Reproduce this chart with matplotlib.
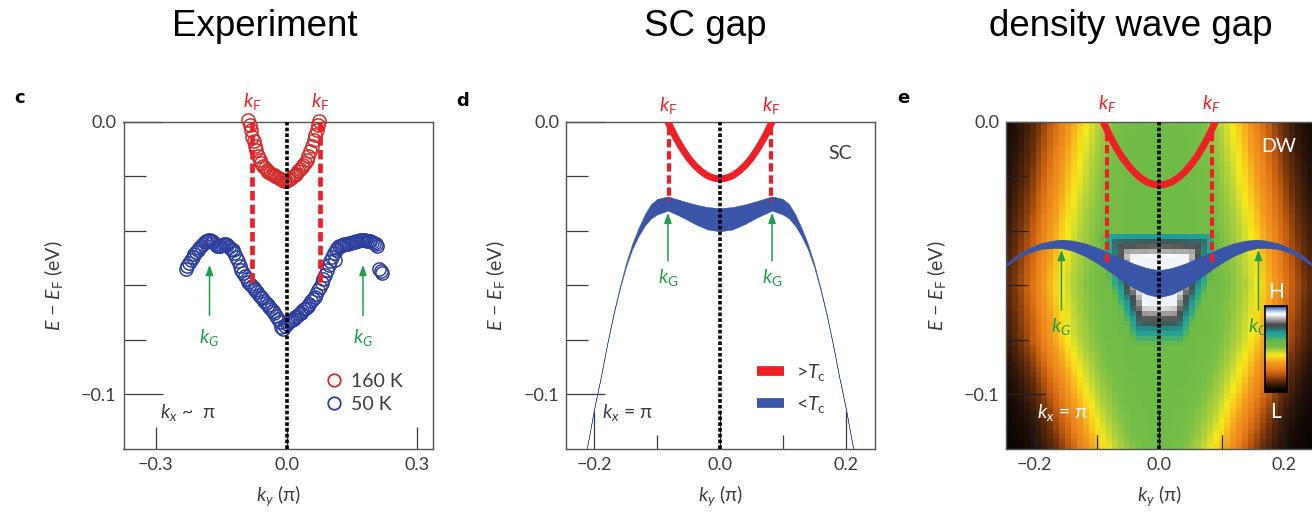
import numpy as np
import matplotlib
matplotlib.use('Agg')
import matplotlib.pyplot as plt
from matplotlib.colors import LinearSegmentedColormap
from matplotlib.lines import Line2D

plt.rcParams['font.family'] = ['Lato', 'DejaVu Sans']
plt.rcParams['mathtext.fontset'] = 'custom'
plt.rcParams['mathtext.rm'] = 'Lato'
plt.rcParams['mathtext.it'] = 'Lato:italic'

# ---------------- data ----------------
# panel c: measured band positions (ky in pi, E in eV)
red_k = [-0.088, -0.085, -0.082, -0.079, -0.076, -0.073, -0.070, -0.066, -0.062, -0.058,
         -0.054, -0.050, -0.046, -0.042, -0.038, -0.034, -0.030, -0.026, -0.022, -0.018,
         -0.014, -0.010, -0.006, -0.002, 0.002, 0.006, 0.010, 0.014, 0.018, 0.022,
         0.026, 0.030, 0.034, 0.038, 0.042, 0.046, 0.050, 0.054, 0.058, 0.062,
         0.066, 0.069, 0.072, 0.075]
red_E = [0.0005, -0.0012, -0.0032, -0.0055, -0.0072, -0.0088, -0.0102, -0.0125, -0.0140, -0.0152,
         -0.0162, -0.0171, -0.0177, -0.0183, -0.0187, -0.0192, -0.0196, -0.0200, -0.0204, -0.0208,
         -0.0211, -0.0215, -0.0217, -0.0216, -0.0214, -0.0210, -0.0205, -0.0200, -0.0195, -0.0190,
         -0.0182, -0.0175, -0.0167, -0.0160, -0.0152, -0.0140, -0.0125, -0.0108, -0.0090, -0.0068,
         -0.0048, -0.0030, -0.0012, 0.0002]

blue_k = [-0.232, -0.228, -0.224, -0.220, -0.216, -0.212, -0.208, -0.204, -0.200, -0.196,
          -0.192, -0.188, -0.184, -0.180, -0.176, -0.172, -0.168, -0.164, -0.160, -0.156,
          -0.152, -0.148, -0.144, -0.140, -0.136, -0.132, -0.128, -0.124, -0.120, -0.116,
          -0.112, -0.108, -0.104, -0.100, -0.096, -0.092, -0.088, -0.084, -0.080, -0.076,
          -0.072, -0.068, -0.064, -0.060, -0.056, -0.052, -0.048, -0.044, -0.040, -0.036,
          -0.032, -0.028, -0.024, -0.020, -0.016, -0.012, -0.008, -0.004, 0.000, 0.004,
          0.008, 0.012, 0.016, 0.020, 0.024, 0.028, 0.032, 0.036, 0.040, 0.044,
          0.048, 0.052, 0.056, 0.060, 0.064, 0.068, 0.072, 0.076, 0.080, 0.084,
          0.088, 0.092, 0.096, 0.100, 0.104, 0.108, 0.110, 0.112, 0.116, 0.120,
          0.124, 0.128, 0.132, 0.136, 0.140, 0.144, 0.148, 0.152, 0.156, 0.160,
          0.164, 0.168, 0.172, 0.176, 0.180, 0.184, 0.188, 0.192, 0.196, 0.200,
          0.204, 0.208, 0.212, 0.216, 0.218]
blue_E = [-0.0540, -0.0530, -0.0518, -0.0508, -0.0496, -0.0486, -0.0477, -0.0470, -0.0463, -0.0455,
          -0.0448, -0.0442, -0.0438, -0.0434, -0.0433, -0.0436, -0.0442, -0.0449, -0.0454, -0.0457,
          -0.0456, -0.0452, -0.0450, -0.0450, -0.0452, -0.0458, -0.0465, -0.0472, -0.0480, -0.0495,
          -0.0510, -0.0528, -0.0542, -0.0555, -0.0566, -0.0578, -0.0588, -0.0596, -0.0602, -0.0610,
          -0.0618, -0.0626, -0.0634, -0.0641, -0.0648, -0.0656, -0.0664, -0.0671, -0.0679, -0.0687,
          -0.0695, -0.0703, -0.0712, -0.0722, -0.0736, -0.0752, -0.0760, -0.0748, -0.0740, -0.0736,
          -0.0730, -0.0726, -0.0722, -0.0717, -0.0712, -0.0706, -0.0700, -0.0694, -0.0688, -0.0682,
          -0.0675, -0.0668, -0.0659, -0.0650, -0.0641, -0.0630, -0.0618, -0.0605, -0.0592, -0.0578,
          -0.0562, -0.0544, -0.0527, -0.0510, -0.0496, -0.0482, -0.0508, -0.0470, -0.0462, -0.0457,
          -0.0454, -0.0451, -0.0450, -0.0449, -0.0447, -0.0445, -0.0443, -0.0441, -0.0440, -0.0438,
          -0.0436, -0.0434, -0.0433, -0.0434, -0.0435, -0.0436, -0.0437, -0.0439, -0.0442, -0.0446,
          -0.0450, -0.0456, -0.0540, -0.0548, -0.0556]

kF_c = [-0.080, 0.077]
kF_c_bottom = -0.059
kG_c = [-0.177, 0.175]

# panel d: model bands
d_red_k = [-0.083, -0.080, -0.070, -0.060, -0.050, -0.040, -0.030, -0.020, -0.010, 0.000,
           0.010, 0.020, 0.030, 0.040, 0.050, 0.060, 0.070, 0.080, 0.083]
d_red_E = [0.0000, -0.0015, -0.0061, -0.0100, -0.0134, -0.0161, -0.0182, -0.0198, -0.0207, -0.0210,
           -0.0207, -0.0198, -0.0182, -0.0161, -0.0134, -0.0100, -0.0061, -0.0015, 0.0000]
d_blue_k = [-0.214, -0.200, -0.190, -0.180, -0.170, -0.160, -0.150, -0.140, -0.130, -0.120,
            -0.110, -0.100, -0.083, -0.060, -0.040, -0.020, 0.000,
            0.020, 0.040, 0.060, 0.083, 0.100, 0.110, 0.120, 0.130, 0.140,
            0.150, 0.160, 0.170, 0.180, 0.190, 0.200, 0.214]
d_blue_top = [-0.1220, -0.1045, -0.0935, -0.0815, -0.0705, -0.0608, -0.0520, -0.0448, -0.0390, -0.0340,
              -0.0302, -0.0283, -0.0274, -0.0290, -0.0303, -0.0313, -0.0317,
              -0.0313, -0.0303, -0.0290, -0.0274, -0.0283, -0.0302, -0.0340, -0.0390, -0.0448,
              -0.0520, -0.0608, -0.0705, -0.0815, -0.0935, -0.1045, -0.1220]
d_blue_bot = [-0.1221, -0.1047, -0.0938, -0.0819, -0.0711, -0.0616, -0.0533, -0.0468, -0.0420, -0.0382,
              -0.0355, -0.0340, -0.0326, -0.0350, -0.0375, -0.0395, -0.0402,
              -0.0395, -0.0375, -0.0350, -0.0326, -0.0340, -0.0355, -0.0382, -0.0420, -0.0468,
              -0.0533, -0.0616, -0.0711, -0.0819, -0.0938, -0.1047, -0.1221]
kF_d = [-0.082, 0.082]
kF_d_bottom = -0.029
kG_d = [-0.083, 0.083]

# panel e: density-wave model bands
e_red_k = [-0.090, -0.080, -0.070, -0.060, -0.050, -0.040, -0.030, -0.020, -0.010, 0.000,
           0.010, 0.020, 0.030, 0.040, 0.050, 0.060, 0.070, 0.080, 0.090]
e_red_E = [0.0000, -0.0049, -0.0092, -0.0129, -0.0160, -0.0186, -0.0206, -0.0221, -0.0229, -0.0232,
           -0.0229, -0.0221, -0.0206, -0.0186, -0.0160, -0.0129, -0.0092, -0.0049, 0.0000]
e_blue_k = [-0.250, -0.230, -0.210, -0.190, -0.170, -0.157, -0.140, -0.120, -0.100, -0.080,
            -0.060, -0.040, -0.020, 0.000, 0.020, 0.040, 0.060, 0.080, 0.100, 0.120,
            0.140, 0.157, 0.170, 0.190, 0.210, 0.230, 0.250]
e_blue_top = [-0.0530, -0.0492, -0.0465, -0.0446, -0.0436, -0.0433, -0.0436, -0.0446, -0.0462, -0.0482,
              -0.0503, -0.0522, -0.0537, -0.0545, -0.0537, -0.0522, -0.0503, -0.0482, -0.0462, -0.0446,
              -0.0436, -0.0433, -0.0436, -0.0446, -0.0465, -0.0492, -0.0530]
e_blue_bot = [-0.0537, -0.0503, -0.0480, -0.0466, -0.0462, -0.0463, -0.0472, -0.0491, -0.0517, -0.0548,
              -0.0580, -0.0610, -0.0632, -0.0643, -0.0632, -0.0610, -0.0580, -0.0548, -0.0517, -0.0491,
              -0.0472, -0.0463, -0.0462, -0.0466, -0.0480, -0.0503, -0.0537]
kF_e = [-0.084, 0.084]
kF_e_bottom = -0.052
kG_e = [-0.157, 0.159]

# panel e intensity map: ridge (yellow edge) of the bright region and the gap blob
ridge_E = [-0.12, -0.10, -0.08, -0.06, -0.04, -0.02, 0.0]
ridge_k = [0.090, 0.122, 0.152, 0.164, 0.152, 0.137, 0.122]
blob_E = [-0.090, -0.080, -0.070, -0.060, -0.050, -0.040]
blob_kw = [0.030, 0.048, 0.066, 0.084, 0.096, 0.100]
plateau = 0.57
blob_gain = 0.35
blob_top, blob_bottom = -0.037, -0.083

# ---------------- styling ----------------
gray = '#3c3c3c'
red_c, blue_c = '#d22b2b', '#2e3e9c'
red_l, blue_l = '#ee2026', '#3a55a8'
green = '#1f9e4c'
tick_fs = 13

cmap = LinearSegmentedColormap.from_list('dw', [
    (0.00, '#000000'), (0.06, '#24120a'), (0.13, '#6a300c'), (0.20, '#c05a10'),
    (0.27, '#e8801a'), (0.34, '#f49c20'), (0.40, '#f8d21c'), (0.43, '#f6ea1e'),
    (0.48, '#b4d23c'), (0.53, '#78bf46'), (0.60, '#64b74c'), (0.65, '#2ea98a'),
    (0.70, '#1f9c9c'), (0.75, '#3e5c5c'), (0.79, '#4c4c4c'), (0.85, '#a8a8a8'),
    (0.91, '#ffffff'), (0.95, '#b0c8e8'), (1.00, '#2e4ea6')])

fig = plt.figure(figsize=(13.12, 5.14), dpi=100)
W, H = 1312, 514


def make_axes(x0, x1):
    return fig.add_axes([x0 / W, 1 - 449 / H, (x1 - x0) / W, (449 - 121.7) / H])


def style_axes(ax, xmajor, xminor, long_len):
    ax.set_ylim(-0.12, 0.0)
    ax.set_yticks([0.0, -0.1])
    ax.set_yticklabels(['0.0', '\u22120.1'])
    ax.set_yticks([-0.02, -0.04, -0.06, -0.08], minor=True)
    ax.set_xticks(xmajor)
    ax.set_xticklabels([('\u2212%.1f' % abs(v)) if v < 0 else '%.1f' % v for v in xmajor])
    ax.set_xticks(xminor, minor=True)
    ax.tick_params(axis='y', which='major', direction='in', length=28, width=0.9,
                   color=gray, labelcolor=gray, labelsize=tick_fs, pad=5)
    ax.tick_params(axis='y', which='minor', direction='in', length=16, width=0.9, color=gray)
    ax.tick_params(axis='x', which='major', direction='in', length=long_len, width=0.9,
                   color=gray, labelcolor=gray, labelsize=tick_fs, pad=6)
    ax.tick_params(axis='x', which='minor', direction='in', length=10, width=0.9, color=gray)
    for s in ax.spines.values():
        s.set_color('#555555')
        s.set_linewidth(1.0)
    ax.set_xlabel(r'$k_y$ (π)', fontsize=14, color=gray)
    ax.xaxis.set_label_coords(0.5, -0.105)
    ax.set_ylabel('$E$ \u2212 $E_\\mathrm{F}$ (eV)', fontsize=14, color=gray)
    ax.yaxis.set_label_coords(-0.19, 0.5)


def center_line(ax):
    ax.axvline(0.0, color='black', lw=2.6, ls=(0, (1.0, 0.6)), dash_capstyle='butt', zorder=6)


def kf_lines(ax, ks, bottom, top, lw):
    for k in ks:
        ax.plot([k, k], [top, bottom], color=red_l, lw=lw, ls=(0, (2.0, 0.9)),
                dash_capstyle='butt', zorder=5)


def kf_labels(ax, ks, yax, label):
    for k in ks:
        ax.text(k, yax, label, color=red_l, fontsize=14, ha='center', va='center',
                transform=ax.get_xaxis_transform(), clip_on=False)


def kg_arrows(ax, ks, tail, tip, lab_E, label):
    for k in ks:
        ax.annotate('', xy=(k, tip), xytext=(k, tail),
                    arrowprops=dict(arrowstyle='-|>,head_length=0.6,head_width=0.22',
                                    color=green, lw=1.1, shrinkA=0, shrinkB=0), zorder=7)
        ax.text(k, lab_E, label, color=green, fontsize=14, ha='center', va='center', zorder=7)


# ---------------- panel c: experiment ----------------
axc = make_axes(123.5, 433)
axc.set_xlim(-0.3743, 0.3356)
style_axes(axc, [-0.3, 0.0, 0.3], [], 16)
center_line(axc)
kf_lines(axc, kF_c, kF_c_bottom, 0.0, 3.4)
axc.plot(red_k, red_E, 'o', ms=9.5, mfc='none', mec=red_c, mew=1.1, clip_on=False, zorder=4)
axc.plot(blue_k, blue_E, 'o', ms=9.5, mfc='none', mec=blue_c, mew=1.1, clip_on=False, zorder=4)
kf_labels(axc, kF_c, 1.063, r'$k_\mathrm{F}$')
kg_arrows(axc, kG_c, -0.071, -0.0525, -0.0790, r'$k_G$')
axc.text(0.117, 0.11, r'$k_x$ ~  π', transform=axc.transAxes, fontsize=14, color=gray,
         va='center', ha='left')
axc.legend(handles=[Line2D([], [], marker='o', ls='none', ms=9, mfc='none', mec=red_c, mew=1.3,
                           label='160 K'),
                    Line2D([], [], marker='o', ls='none', ms=9, mfc='none', mec=blue_c, mew=1.3,
                           label='50 K')],
           loc='upper left', bbox_to_anchor=(0.648, 0.232), frameon=False, fontsize=14,
           handlelength=1.0, handletextpad=0.4, labelspacing=0.3, borderpad=0,
           borderaxespad=0, labelcolor=gray)

# ---------------- panel d: SC gap ----------------
axd = make_axes(566, 875)
axd.set_xlim(-0.2454, 0.2470)
style_axes(axd, [-0.2, 0.0, 0.2], [-0.1, 0.1], 28)
center_line(axd)
axd.fill_between(d_blue_k, d_blue_top, d_blue_bot, color=blue_l, lw=0.35, zorder=3)
axd.plot(d_red_k, d_red_E, color=red_l, lw=5, solid_capstyle='butt', zorder=4)
kf_lines(axd, kF_d, kF_d_bottom, -0.002, 3.0)
kf_labels(axd, kF_d, 1.051, r'$k_\mathrm{F}$')
kg_arrows(axd, kG_d, -0.051, -0.0334, -0.0573, r'$k_\mathrm{G}$')
axd.text(0.926, 0.904, 'SC', transform=axd.transAxes, fontsize=14, color=gray,
         ha='right', va='center')
axd.text(0.115, 0.11, r'$k_x$ = π', transform=axd.transAxes, fontsize=14, color=gray,
         va='center', ha='left')
axd.legend(handles=[Line2D([], [], color=red_l, lw=7, solid_capstyle='butt', label=r'>$T_\mathrm{c}$'),
                    Line2D([], [], color=blue_l, lw=7, solid_capstyle='butt', label=r'<$T_\mathrm{c}$')],
           loc='upper left', bbox_to_anchor=(0.618, 0.265), frameon=False, fontsize=14,
           handlelength=1.4, handletextpad=0.6, labelspacing=0.55, borderpad=0,
           borderaxespad=0, labelcolor=gray)

# ---------------- panel e: density wave gap ----------------
axe = make_axes(1006, 1313)
axe.set_xlim(-0.2459, 0.2465)
grid_k = np.linspace(-0.2459, 0.2465, 52)
grid_E = np.linspace(-0.12, 0.0, 64)
K, EE = np.meshgrid(grid_k, grid_E)
kb = np.interp(EE, ridge_E, ridge_k)
inten = plateau / (1 + np.exp((np.abs(K) - kb - 0.036) / 0.035))
kw = np.interp(EE, blob_E, blob_kw, left=0, right=0)
s_k = np.clip((kw - np.abs(K)) / 0.05, 0, 1)
s_top = np.clip((blob_top - EE) / 0.013, 0, 1)
s_bot = np.clip((EE - blob_bottom) / 0.016, 0, 1)
inten = inten + blob_gain * np.minimum(s_k, np.minimum(s_top, s_bot))
axe.imshow(inten, cmap=cmap, vmin=0, vmax=1, origin='lower', aspect='auto',
           interpolation='nearest', extent=[grid_k[0], grid_k[-1], -0.12, 0.0], zorder=0)
style_axes(axe, [-0.2, 0.0, 0.2], [-0.1, 0.1], 28)
axe.tick_params(which='both', color='#222222')
center_line(axe)
axe.fill_between(e_blue_k, e_blue_top, e_blue_bot, color=blue_l, lw=0.6, zorder=3)
axe.plot(e_red_k, e_red_E, color=red_l, lw=5, solid_capstyle='butt', zorder=4)
kf_lines(axe, kF_e, kF_e_bottom, -0.004, 3.0)
kf_labels(axe, kF_e, 1.056, r'$k_F$')
kg_arrows(axe, kG_e, -0.069, -0.047, -0.075, r'$k_G$')
axe.text(0.944, 0.924, 'DW', transform=axe.transAxes, fontsize=14, color='white',
         ha='right', va='center')
axe.text(0.10, 0.11, r'$k_x$ = π', transform=axe.transAxes, fontsize=14, color='white',
         va='center', ha='left')

# colour scale inset
cax = fig.add_axes([1265 / W, 1 - 392 / H, 22 / W, 86 / H])
cax.imshow(np.linspace(0, 1, 100)[:, None], cmap=cmap, origin='lower', aspect='auto')
cax.set_xticks([])
cax.set_yticks([])
for s in cax.spines.values():
    s.set_color('black')
    s.set_linewidth(1.2)
fig.text(1276 / W, 1 - 292 / H, 'H', color='white', fontsize=15, ha='center', va='center')
fig.text(1276 / W, 1 - 412 / H, 'L', color='white', fontsize=15, ha='center', va='center')

# titles and panel letters
for x, t in [(265, 'Experiment'), (705, 'SC gap'), (1131, 'density wave gap')]:
    fig.text(x / W, 1 - 26 / H, t, fontsize=26.5, ha='center', va='center',
             family='Liberation Sans')
for x, y, t in [(20, 98, 'c'), (463, 101, 'd'), (903, 98, 'e')]:
    fig.text(x / W, 1 - y / H, t, fontsize=13, fontweight='bold', ha='center', va='center',
             family='DejaVu Sans')

fig.savefig('out.png', dpi=100)
